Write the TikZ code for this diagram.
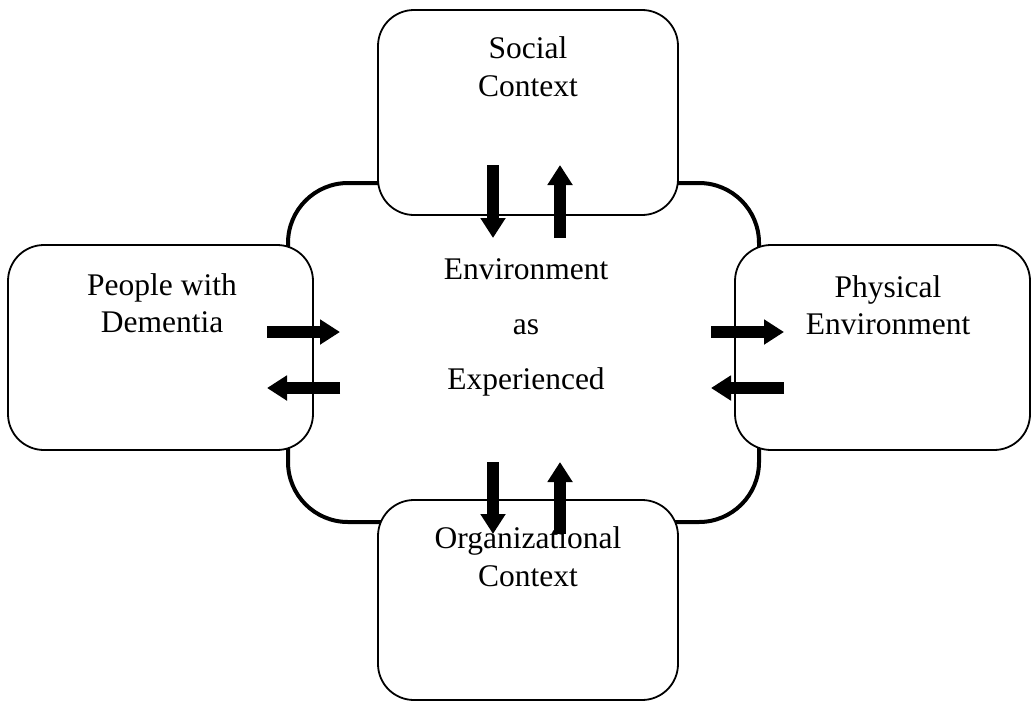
\documentclass[tikz,border=0pt]{standalone}
\usepackage{fontspec}
\setmainfont{Liberation Serif}
\usetikzlibrary{arrows.meta}
\tikzset{
  outer/.style={line width=4pt, rounded corners=60pt},
  box/.style={draw, line width=1.8pt, fill=white, rounded corners=36pt},
  lbl/.style={anchor=base, inner sep=0pt, font=\fontsize{31.5}{38}\selectfont},
  blockarrow/.style={line width=12pt, -{Triangle[width=24pt,length=20pt]}}
}
\begin{document}
\begin{tikzpicture}[x=1pt,y=-1pt]
\useasboundingbox (0,0) rectangle (1032,704);
% central environment
\draw[outer] (288,183) rectangle (759,522);
% surrounding boxes
\path[box] (378,10) rectangle (678,215);
\path[box] (8,245) rectangle (313,450);
\path[box] (735,245) rectangle (1030,450);
\path[box] (378,500) rectangle (678,700);
% labels
\node[lbl] (s1) at (528,58) {Social};
\node[lbl] (s2) at (528,96) {Context};
\node[lbl] (p1) at (162,295) {People with};
\node[lbl] (p2) at (162,332) {Dementia};
\node[lbl] (f1) at (888,297) {Physical};
\node[lbl] (f2) at (888,334) {Environment};
\node[lbl] (o1) at (528,548) {Organizational};
\node[lbl] (o2) at (528,586) {Context};
\node[lbl] (e1) at (526,279) {Environment};
\node[lbl] (e2) at (526,334) {as};
\node[lbl] (e3) at (526,389) {Experienced};
% arrow end points
\coordinate (ts1) at (493,165); \coordinate (te1) at (493,238);
\coordinate (ts2) at (560,238); \coordinate (te2) at (560,165);
\coordinate (bs1) at (493,462); \coordinate (be1) at (493,534);
\coordinate (bs2) at (560,534); \coordinate (be2) at (560,462);
\coordinate (ls1) at (267,332); \coordinate (le1) at (340,332);
\coordinate (ls2) at (340,388); \coordinate (le2) at (267,388);
\coordinate (rs1) at (711,332); \coordinate (re1) at (784,332);
\coordinate (rs2) at (784,388); \coordinate (re2) at (711,388);
\draw[blockarrow] (ts1) -- (te1);
\draw[blockarrow] (ts2) -- (te2);
\draw[blockarrow] (bs1) -- (be1);
\draw[blockarrow] (bs2) -- (be2);
\draw[blockarrow] (ls1) -- (le1);
\draw[blockarrow] (ls2) -- (le2);
\draw[blockarrow] (rs1) -- (re1);
\draw[blockarrow] (rs2) -- (re2);
\end{tikzpicture}
\end{document}
